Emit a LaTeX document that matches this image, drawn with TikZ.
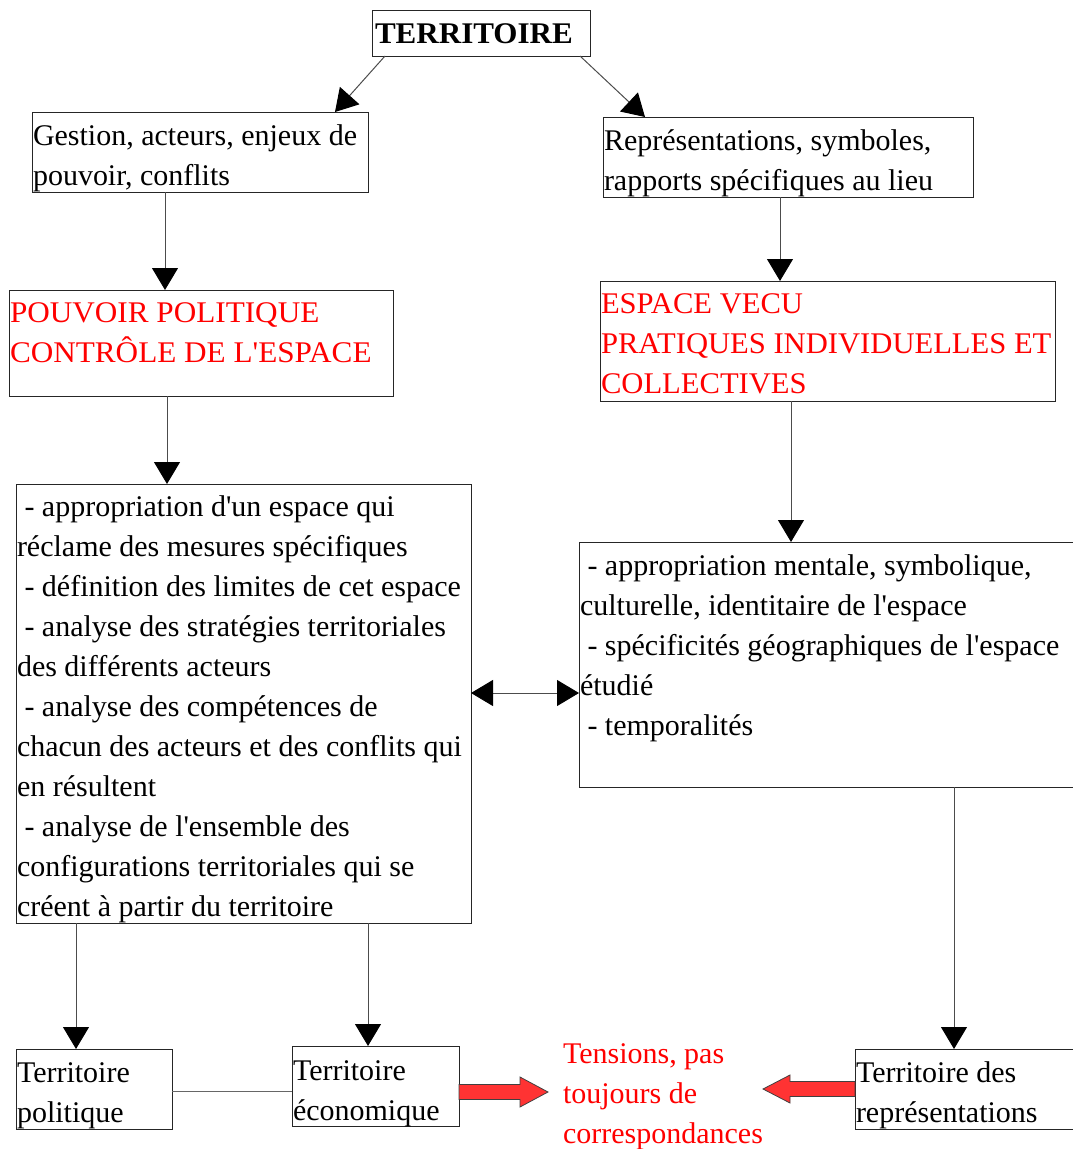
\documentclass[tikz,border=0pt]{standalone}
\usepackage{fontspec}
\setmainfont{Liberation Serif}[Ligatures=TeXOff]
\usetikzlibrary{arrows.meta,calc}
\begin{document}
\begin{tikzpicture}[x=1pt,y=-1pt,
  box/.style={draw=black!85,line width=1pt,inner sep=0pt,outer sep=0pt,anchor=north west,rectangle},
  txt/.style={inner sep=0pt,outer sep=0pt,anchor=base west,align=left,font=\fontsize{30}{40}\selectfont},
  redtxt/.style={txt,text={rgb,255:red,255;green,0;blue,0}},
  conn/.style={draw=black!70,line width=1pt,-{Triangle[width=26pt,length=22pt,color=black]}},
  dconn/.style={draw=black!70,line width=1pt,{Triangle[width=26pt,length=22pt,color=black]}-{Triangle[width=26pt,length=22pt,color=black]}},
  plain/.style={draw=black!60,line width=1pt},
  redarr/.style={draw=black!75,line width=0.8pt,fill={rgb,255:red,255;green,51;blue,51}}]
\useasboundingbox (0,0) rectangle (1073,1149);
\clip (0,0) rectangle (1073,1149);
% boxes
\node[box,minimum width=218pt,minimum height=46pt] (terr) at (372,10) {};
\node[box,minimum width=336pt,minimum height=80pt] (gest) at (32,112) {};
\node[box,minimum width=370pt,minimum height=80pt] (repr) at (603,117) {};
\node[box,minimum width=384pt,minimum height=106pt] (pouv) at (9,290) {};
\node[box,minimum width=455pt,minimum height=120pt] (esp) at (600,281) {};
\node[box,minimum width=455pt,minimum height=439pt] (lb) at (16,484) {};
\node[box,minimum width=520pt,minimum height=245pt] (rb) at (579,542) {};
\node[box,minimum width=156pt,minimum height=80pt] (pol) at (16,1049) {};
\node[box,minimum width=167pt,minimum height=80pt] (eco) at (292,1046) {};
\node[box,minimum width=240pt,minimum height=80pt] (reps) at (855,1049) {};
% texts (anchor = baseline of the last line)
\node[txt,font=\fontsize{30}{40}\selectfont\bfseries\addfontfeatures{FakeStretch=1.035}] (terrT) at (375,43) {TERRITOIRE};
\node[txt] (gestT) at (33,185) {Gestion, acteurs, enjeux de\\pouvoir, conflits};
\node[txt] (reprT) at (604,190) {Représentations, symboles,\\rapports spécifiques au lieu};
\node[redtxt,font=\fontsize{30}{40}\selectfont\addfontfeatures{FakeStretch=1.04}] (pouvT) at (10,362) {POUVOIR POLITIQUE\\CONTRÔLE DE L'ESPACE};
\node[redtxt,font=\fontsize{30}{40}\selectfont\addfontfeatures{FakeStretch=1.02}] (espT) at (601,393) {ESPACE VECU\\PRATIQUES INDIVIDUELLES ET\\COLLECTIVES};
\node[txt] (lbT) at (17,916) {\ - appropriation d'un espace qui\\réclame des mesures spécifiques\\\ - définition des limites de cet espace\\\ - analyse des stratégies territoriales\\des différents acteurs\\\ - analyse des compétences de\\chacun des acteurs et des conflits qui\\en résultent\\\ - analyse de l'ensemble des\\configurations territoriales qui se\\créent à partir du territoire};
\node[txt] (rbT) at (580,735) {\ - appropriation mentale, symbolique,\\culturelle, identitaire de l'espace\\\ - spécificités géographiques de l'espace\\étudié\\\ - temporalités};
\node[txt] (polT) at (17,1122) {Territoire\\politique};
\node[txt] (ecoT) at (293,1120) {Territoire\\économique};
\node[txt] (repsT) at (856,1122) {Territoire des\\représentations};
\node[redtxt] (tens) at (563,1143) {Tensions, pas\\toujours de\\correspondances};
% connectors
\draw[conn] ($(terr.south west)+(13,0)$) -- ($(gest.north west)+(303,0)$);
\draw[conn] ($(terr.south east)+(-10,0)$) -- ($(repr.north west)+(42,0)$);
\draw[conn] ($(gest.south west)+(133,0)$) -- ($(pouv.north west)+(156,0)$);
\draw[conn] ($(repr.south west)+(177,0)$) -- ($(esp.north west)+(180,0)$);
\draw[conn] ($(pouv.south west)+(158,0)$) -- ($(lb.north west)+(151,0)$);
\draw[conn] ($(esp.south west)+(191,0)$) -- ($(rb.north west)+(212,0)$);
\draw[dconn] ($(lb.north east)+(0,209)$) -- ($(rb.north west)+(0,151)$);
\draw[conn] ($(lb.south west)+(60,0)$) -- ($(pol.north west)+(60,0)$);
\draw[conn] ($(lb.south west)+(352,0)$) -- ($(eco.north west)+(76,0)$);
\draw[conn] ($(rb.south west)+(375,0)$) -- ($(reps.north west)+(99,0)$);
\draw[plain] ($(pol.north east)+(0,42)$) -- ($(eco.north west)+(0,45)$);
% red block arrows
\draw[redarr] ($(eco.north east)+(0,38.5)$) -- ++(61,0) -- ++(0,-7.5) -- ++(28,15) -- ++(-28,15) -- ++(0,-7.5) -- ++(-61,0) -- cycle;
\draw[redarr] ($(reps.north west)+(0,32.5)$) -- ++(-65,0) -- ++(0,-6.5) -- ++(-27,14) -- ++(27,14) -- ++(0,-6.5) -- ++(65,0) -- cycle;
\end{tikzpicture}
\end{document}
